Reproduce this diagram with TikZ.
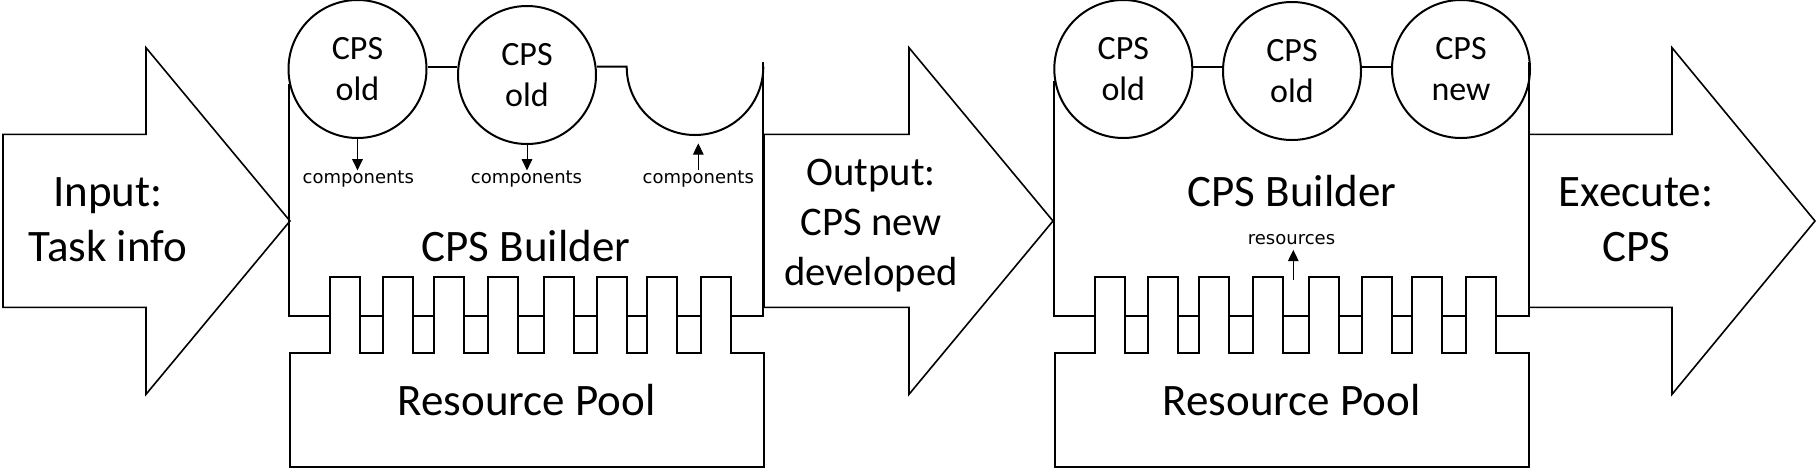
\documentclass[tikz,border=0pt]{standalone}
\usepackage{fontspec}
\setmainfont{Carlito}
\newfontfamily\labelfont{DejaVu Sans}
\usetikzlibrary{arrows.meta}

\begin{document}
\begin{tikzpicture}[
  x=0.75pt, y=-0.75pt,
  line/.style={draw, line width=1.5pt},
  bigarrow/.style={draw, line width=1.2pt, line join=miter},
  pool/.style={draw, fill=white, line width=1.5pt},
  cps/.style={
    circle, draw, line width=1.5pt, minimum size=103.5pt,
    inner sep=0pt, align=center,
    font=\fontsize{25.5}{30.75}\selectfont},
  big/.style={align=center, font=\fontsize{33.75}{41.25}\selectfont},
  title/.style={anchor=base, inner sep=0pt,
    font=\fontsize{33.75}{41.25}\selectfont},
  lbl/.style={anchor=base, inner sep=0pt,
    font=\labelfont\fontsize{13.5}{15}\selectfont},
  arr/.style={-{Triangle[length=8.5pt, width=8pt]}, line width=0.75pt}
]
\useasboundingbox (0,0) rectangle (1818,469);

%% Big arrows
\foreach \xa/\xb/\xc in {3/146/290, 764/909/1053, 1529/1672/1815}
  \draw[bigarrow] (\xa,134.3) -- (\xb,134.3) -- (\xb,47.7) -- (\xc,221)
    -- (\xb,394.3) -- (\xb,307.3) -- (\xa,307.3) -- cycle;

\node[big] (input)   at (108,219.5) {Input:\\Task info};
\node[big, font=\fontsize{30.5}{37.5}\selectfont]
               (output)  at (871,225.5) {Output:\\CPS new\\developed};
\node[big] (execute) at (1636,220)  {Execute:\\CPS};

%% CPS Builder 1
\node[cps] (b1old1) at (357.5,69) {CPS\\old};
\node[cps] (b1old2) at (527,75)   {CPS\\old};
\coordinate (b1slot)    at (626.7,66.7);
\coordinate (b1slotbot) at (695,136.7);

\draw[line] (b1old1.192) |- (763.3,316) -- (763.3,61.7);
\draw[line] (b1old1.east |- b1slot) -- (b1old2.west |- b1slot);
\draw[line] (b1old2.east |- b1slot) -- (b1slot)
  arc[start angle=180, end angle=360, radius=51.225pt];

%% CPS Builder 2
\node[cps] (b2old1) at (1123.3,69) {CPS\\old};
\node[cps] (b2old2) at (1292,71)   {CPS\\old};
\node[cps] (b2new)  at (1461,69)   {CPS\\new};
\coordinate (b2top) at (1292,66.7);

\draw[line] (b2old1.190) |- (1529,316) -- (1529,61.7);
\draw[line] (b2old1.east |- b2top) -- (b2old2.west |- b2top);
\draw[line] (b2old2.east |- b2top) -- (b2new.west |- b2top);

%% Resource pools
\foreach \bx in {290,1055}
  \draw[pool] (\bx,467) -- (\bx,353)
    \foreach \t in {39.5,93,143.5,197.5,253.5,306.7,356.7,411}
      { -- ({\bx+\t},353) -- ({\bx+\t},276.5)
        -- ({\bx+\t+30},276.5) -- ({\bx+\t+30},353) }
    -- ({\bx+474},353) -- ({\bx+474},467) -- cycle;

\node[title] (b1name) at (526,261)     {CPS Builder};
\node[title] (b1pool) at (526.7,415)   {Resource Pool};
\node[title] (b2name) at (1292,206.7)  {CPS Builder};
\node[title] (b2pool) at (1291.7,415)  {Resource Pool};

%% Components
\node[lbl] (b1comp1) at (358.3,183.3) {components};
\node[lbl] (b1comp2) at (526.5,183.3) {components};
\node[lbl] (b1comp3) at (698.3,183.3) {components};
\draw[arr] (b1old1.south) -- (b1old1.south |- b1comp1.north);
\draw[arr] (b1old2.south) -- (b1old2.south |- b1comp2.north);
\draw[arr, shorten >=5pt] (b1comp3.north) -- (b1comp3.north |- b1slotbot);

%% Resources
\node[lbl] (b2res) at (1291.5,244.3) {resources};
\coordinate (b2gap) at (1293.3,280);
\draw[arr, shorten >=3.75pt] (b2gap) -- (b2gap |- b2res.south);

\end{tikzpicture}
\end{document}
